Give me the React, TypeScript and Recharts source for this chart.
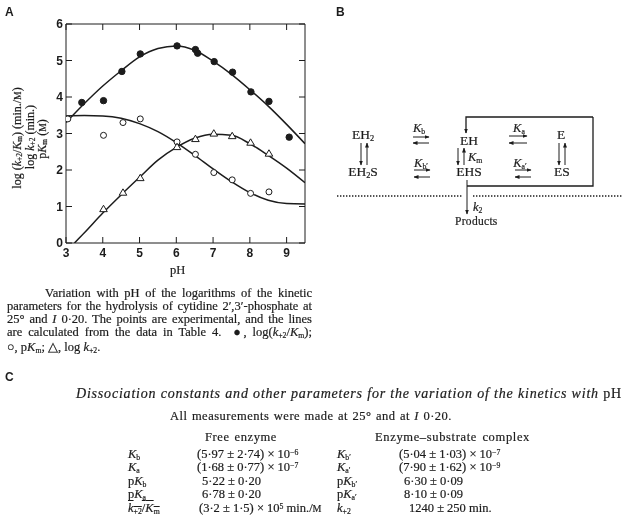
import React from 'react';
import { ComposedChart, Line, Scatter, XAxis, YAxis } from 'recharts';

// fitted curves
const CURVE_K_RATIO_PH = [3, 3.5, 4, 4.5, 5, 5.5, 6, 6.5, 7, 7.5, 8, 8.5, 9, 9.5];
const CURVE_K_RATIO = [3.3, 3.82, 4.3, 4.72, 5.1, 5.33, 5.4, 5.28, 4.98, 4.62, 4.2, 3.75, 3.25, 2.72];
const CURVE_PKM_PH = [3, 3.5, 4, 4.5, 5, 5.5, 6, 6.5, 7, 7.5, 8, 8.5, 9, 9.5];
const CURVE_PKM = [3.48, 3.49, 3.48, 3.42, 3.27, 3.05, 2.75, 2.4, 2.03, 1.68, 1.38, 1.17, 1.08, 1.07];
const CURVE_K2_PH = [3.23, 3.5, 4, 4.5, 5, 5.5, 6, 6.5, 7, 7.5, 8, 8.5, 9, 9.5];
const CURVE_K2 = [0, 0.28, 0.82, 1.32, 1.8, 2.27, 2.62, 2.87, 2.98, 2.95, 2.72, 2.4, 2.05, 1.65];

// experimental points
const FILLED_PH = [3.43, 4.02, 4.52, 5.02, 6.02, 6.52, 6.58, 7.03, 7.53, 8.03, 8.52, 9.07];
const FILLED_Y = [3.85, 3.9, 4.7, 5.18, 5.4, 5.3, 5.2, 4.97, 4.68, 4.14, 3.88, 2.9];
const OPEN_PH = [3.05, 4.02, 4.55, 5.02, 6.02, 6.52, 7.02, 7.52, 8.02, 8.52];
const OPEN_Y = [3.4, 2.95, 3.3, 3.4, 2.77, 2.43, 1.93, 1.73, 1.36, 1.4];
const TRI_PH = [4.02, 4.55, 5.02, 6.02, 6.52, 7.02, 7.52, 8.02, 8.52];
const TRI_Y = [0.93, 1.38, 1.78, 2.63, 2.85, 3.0, 2.93, 2.75, 2.45];

const X_TICKS = [3, 4, 5, 6, 7, 8, 9];
const Y_TICKS = [0, 1, 2, 3, 4, 5, 6];

const INK = '#1c1c1c';
const SERIF = '"Liberation Serif", serif';
const SANS = '"Liberation Sans", sans-serif';

const zip = (xs: number[], ys: number[]) => xs.map((x, i) => ({ x, y: ys[i] }));

const CircleDot = (filled: boolean) => (props: any) => (
  <circle cx={props.cx} cy={props.cy} r={filled ? 3.2 : 3} fill={filled ? INK : '#fff'} stroke={INK} strokeWidth={1} />
);

const TriDot = (props: any) => (
  <path
    d={`M${props.cx},${props.cy - 3.8}L${props.cx + 3.8},${props.cy + 2.6}L${props.cx - 3.8},${props.cy + 2.6}Z`}
    fill="#fff"
    stroke={INK}
    strokeWidth={1}
  />
);

const Label = ({ x, y, size = 12.5, w, sp = 0, style, children }: any) => (
  <div
    style={{
      position: 'absolute',
      left: x,
      top: y,
      width: w,
      fontFamily: SERIF,
      fontSize: size,
      lineHeight: '14px',
      letterSpacing: sp,
      color: INK,
      WebkitTextStroke: '0.2px #1c1c1c',
      whiteSpace: 'nowrap',
      ...(w ? { textAlign: 'justify', textAlignLast: 'justify', whiteSpace: 'normal' } : {}),
      ...style,
    }}
  >
    {children}
  </div>
);

const Sub = ({ children }: any) => (
  <span style={{ fontSize: '0.62em', lineHeight: 0, verticalAlign: '-0.2em' }}>{children}</span>
);
const Sup = ({ children }: any) => (
  <span style={{ fontSize: '0.62em', lineHeight: 0, verticalAlign: '0.45em' }}>{children}</span>
);
const I = ({ children }: any) => <i>{children}</i>;

const Centered = ({ x, y, size = 13.5, children }: any) => (
  <Label x={x} y={y} size={size} style={{ transform: 'translateX(-50%)' }}>
    {children}
  </Label>
);

const RotLabel = ({ x, y, children }: any) => (
  <div
    style={{
      position: 'absolute',
      left: x,
      top: y,
      fontFamily: SERIF,
      fontSize: 12,
      lineHeight: '12px',
      color: INK,
      WebkitTextStroke: '0.2px #1c1c1c',
      whiteSpace: 'nowrap',
      transform: 'translate(-50%, -50%) rotate(-90deg)',
    }}
  >
    {children}
  </div>
);

const PanelLetter = ({ x, y, children }: any) => (
  <div style={{ position: 'absolute', left: x, top: y, fontFamily: SANS, fontWeight: 700, fontSize: 12, color: INK }}>
    {children}
  </div>
);

const EqPair = ({ x1, x2, y1, y2 }: any) => (
  <>
    <line x1={x1} x2={x2} y1={y1} y2={y1} markerEnd="url(#head)" />
    <line x1={x2} x2={x1} y1={y2} y2={y2} markerEnd="url(#head)" />
  </>
);

const VPair = ({ x1, x2, y1, y2 }: any) => (
  <>
    <line x1={x1} x2={x1} y1={y1} y2={y2} markerEnd="url(#head)" />
    <line x1={x2} x2={x2} y1={y2} y2={y1} markerEnd="url(#head)" />
  </>
);

const Diagram = () => (
  <svg width={629} height={517} style={{ position: 'absolute', left: 0, top: 0 }}>
    <defs>
      <marker id="head" markerWidth="5" markerHeight="5" refX="4.5" refY="2" orient="auto" markerUnits="userSpaceOnUse">
        <path d="M0,0L5,2L0,4Z" fill={INK} />
      </marker>
    </defs>
    <g stroke={INK} strokeWidth={1} fill="none">
      <EqPair x1={413} x2={429} y1={137} y2={143} />
      <EqPair x1={414} x2={430} y1={170} y2={177} />
      <EqPair x1={509} x2={527} y1={136} y2={143} />
      <EqPair x1={515} x2={531} y1={170} y2={177} />
      <VPair x1={361} x2={367} y1={143} y2={165} />
      <VPair x1={458} x2={464} y1={148} y2={165} />
      <VPair x1={559} x2={565} y1={143} y2={165} />
      <polyline points="593,117 466,117 466,133" markerEnd="url(#head)" strokeWidth={1.3} />
      <polyline points="593,117 593,186 467,186" strokeWidth={1.3} />
      <line x1={467} x2={467} y1={180} y2={214} markerEnd="url(#head)" />
      <line x1={337} x2={462} y1={196} y2={196} strokeDasharray="1.4 1.6" strokeWidth={1.4} />
      <line x1={473} x2={622} y1={196} y2={196} strokeDasharray="1.4 1.6" strokeWidth={1.4} />
    </g>
  </svg>
);

const App = () => {
  const curveProps = { type: 'monotone' as const, stroke: INK, strokeWidth: 1.5, dot: false, isAnimationActive: false };
  const tickStyle = { fill: INK, fontSize: 12, fontFamily: SANS, fontWeight: 700 };
  return (
    <div style={{ position: 'absolute', left: 0, top: 0, width: 629, height: 517, background: '#fff', overflow: 'hidden', filter: 'blur(0.45px)' }}>
      <ComposedChart
        width={320}
        height={270}
        margin={{ top: 14, left: 40, right: 5, bottom: 7 }}
        style={{ position: 'absolute', left: 0, top: 0 }}
      >
        <XAxis
          type="number"
          dataKey="x"
          domain={[3, 9.5]}
          ticks={X_TICKS}
          allowDataOverflow
          height={20}
          tickSize={-6}
          tickMargin={11}
          tick={tickStyle}
          stroke={INK}
          interval={0}
        />
        <YAxis
          type="number"
          dataKey="y"
          domain={[0, 6]}
          ticks={Y_TICKS}
          allowDataOverflow
          width={26}
          tickSize={-6}
          tickMargin={9}
          tick={tickStyle}
          stroke={INK}
          interval={0}
        />
        <XAxis
          xAxisId="top"
          orientation="top"
          type="number"
          dataKey="x"
          domain={[3, 9.5]}
          ticks={X_TICKS}
          height={10}
          tickSize={-6}
          tickFormatter={() => ''}
          stroke={INK}
          interval={0}
        />
        <YAxis
          yAxisId="right"
          orientation="right"
          type="number"
          dataKey="y"
          domain={[0, 6]}
          ticks={Y_TICKS}
          width={10}
          tickSize={-6}
          tickFormatter={() => ''}
          stroke={INK}
          interval={0}
        />
        <Line data={zip(CURVE_K_RATIO_PH, CURVE_K_RATIO)} dataKey="y" {...curveProps} />
        <Line data={zip(CURVE_PKM_PH, CURVE_PKM)} dataKey="y" {...curveProps} />
        <Line data={zip(CURVE_K2_PH, CURVE_K2)} dataKey="y" {...curveProps} />
        <Line xAxisId="top" yAxisId="right" data={zip(CURVE_K2_PH, CURVE_K2)} dataKey="y" {...curveProps} stroke="none" />
        <Scatter data={zip(FILLED_PH, FILLED_Y)} shape={CircleDot(true)} isAnimationActive={false} />
        <Scatter data={zip(OPEN_PH, OPEN_Y)} shape={CircleDot(false)} isAnimationActive={false} />
        <Scatter data={zip(TRI_PH, TRI_Y)} shape={TriDot} isAnimationActive={false} />
      </ComposedChart>

      <Diagram />

      <PanelLetter x={5} y={5}>A</PanelLetter>
      <PanelLetter x={336} y={5}>B</PanelLetter>
      <PanelLetter x={5} y={370}>C</PanelLetter>

      <RotLabel x={17} y={138}>log (<I>k</I><Sub>+2</Sub>/<I>K</I><Sub>m</Sub>) (min./<span style={{ fontSize: '0.8em' }}>M</span>)</RotLabel>
      <RotLabel x={30} y={137}>log <I>k</I><Sub>+2</Sub> (min.)</RotLabel>
      <RotLabel x={42} y={139}>p<I>K</I><Sub>m</Sub> (<span style={{ fontSize: '0.8em' }}>M</span>)</RotLabel>
      <Label x={170} y={263}>pH</Label>

      {/* caption */}
      <Label x={45} y={286} w={267}>Variation with pH of the logarithms of the kinetic</Label>
      <Label x={7} y={299} w={305}>parameters for the hydrolysis of cytidine 2′,3′-phosphate at</Label>
      <Label x={7} y={312} w={305}>25° and <I>I</I> 0·20. The points are experimental, and the lines</Label>
      <Label x={7} y={325} w={305}>are calculated from the data in Table 4. &nbsp;●, log(<I>k</I><Sub>+2</Sub>/<I>K</I><Sub>m</Sub>);</Label>
      <Label x={7} y={340}>○, p<I>K</I><Sub>m</Sub>; △, log <I>k</I><Sub>+2</Sub>.</Label>

      {/* scheme labels */}
      <Centered x={363} y={128}>EH<Sub>2</Sub></Centered>
      <Centered x={363} y={165}>EH<Sub>2</Sub>S</Centered>
      <Centered x={469} y={134}>EH</Centered>
      <Centered x={469} y={165}>EHS</Centered>
      <Centered x={561} y={128}>E</Centered>
      <Centered x={562} y={165}>ES</Centered>
      <Centered x={419} y={121} size={12.5}><I>K</I><Sub>b</Sub></Centered>
      <Centered x={421} y={156} size={12.5}><I>K</I><Sub>b′</Sub></Centered>
      <Centered x={519} y={121} size={12.5}><I>K</I><Sub>a</Sub></Centered>
      <Centered x={520} y={156} size={12.5}><I>K</I><Sub>a′</Sub></Centered>
      <Label x={468} y={150}><I>K</I><Sub>m</Sub></Label>
      <Label x={473} y={200}><I>k</I><Sub>2</Sub></Label>
      <Label x={455} y={214} size={11.5} sp={0.3}>Products</Label>

      {/* table */}
      <Label x={76} y={387} size={14} sp={0.8} w={546}><I>Dissociation constants and other parameters for the variation of the kinetics with</I> pH</Label>
      <Label x={170} y={409} size={12.5} sp={0.5} w={282}>All measurements were made at 25° and at <I>I</I> 0·20.</Label>
      <Label x={205} y={430} sp={0.6} w={72}>Free enzyme</Label>
      <Label x={375} y={430} sp={0.65} w={155}>Enzyme–substrate complex</Label>

      <Label x={128} y={447}><I>K</I><Sub>b</Sub></Label>
      <Label x={128} y={460}><I>K</I><Sub>a</Sub></Label>
      <Label x={128} y={474}>p<I>K</I><Sub>b</Sub></Label>
      <Label x={128} y={487}>p<I>K</I><Sub>a</Sub></Label>
      <Label x={128} y={501}><span style={{ textDecoration: 'overline' }}><I>k</I><Sub>+2</Sub>/<I>K</I><Sub>m</Sub></span></Label>

      <Label x={197} y={447}>(5·97 ± 2·74) × 10<Sup>−6</Sup></Label>
      <Label x={197} y={460}>(1·68 ± 0·77) × 10<Sup>−7</Sup></Label>
      <Label x={202} y={474}>5·22 ± 0·20</Label>
      <Label x={202} y={487}>6·78 ± 0·20</Label>
      <Label x={199} y={501}>(3·2 ± 1·5) × 10<Sup>5</Sup> min./<span style={{ fontSize: '0.8em' }}>M</span></Label>

      <Label x={337} y={447}><I>K</I><Sub>b′</Sub></Label>
      <Label x={337} y={460}><I>K</I><Sub>a′</Sub></Label>
      <Label x={337} y={474}>p<I>K</I><Sub>b′</Sub></Label>
      <Label x={337} y={487}>p<I>K</I><Sub>a′</Sub></Label>
      <Label x={337} y={501}><I>k</I><Sub>+2</Sub></Label>

      <Label x={399} y={447}>(5·04 ± 1·03) × 10<Sup>−7</Sup></Label>
      <Label x={399} y={460}>(7·90 ± 1·62) × 10<Sup>−9</Sup></Label>
      <Label x={404} y={474}>6·30 ± 0·09</Label>
      <Label x={404} y={487}>8·10 ± 0·09</Label>
      <Label x={409} y={501}>1240 ± 250 min.</Label>
    </div>
  );
};

export default App;
